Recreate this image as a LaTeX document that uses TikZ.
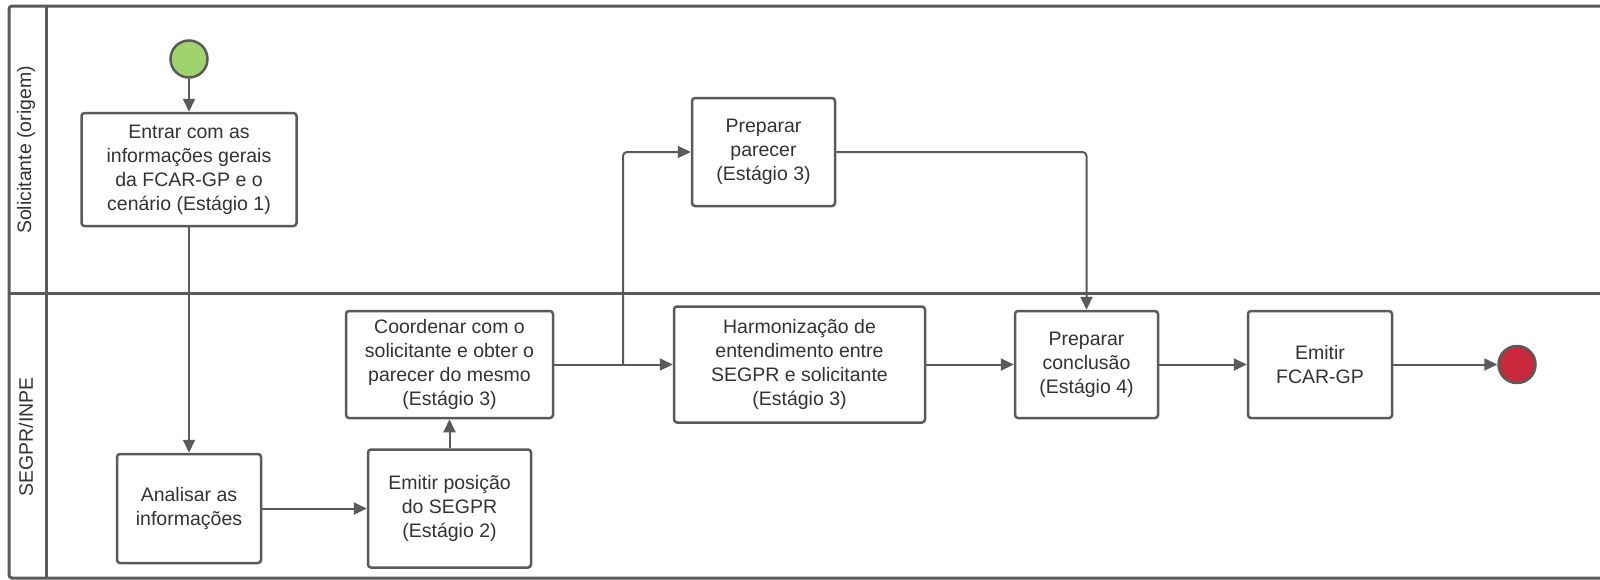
\documentclass[tikz,border=0pt]{standalone}
\usepackage{fontspec}
\setmainfont{Liberation Sans}
\usetikzlibrary{arrows.meta}
\definecolor{linec}{HTML}{5A5A5A}
\definecolor{txtc}{HTML}{333333}
\definecolor{startg}{HTML}{9FD36E}
\definecolor{endr}{HTML}{C8283A}
\tikzset{
  task/.style={draw=linec, line width=2.5pt, rounded corners=3pt, fill=white,
    align=center, text=txtc, inner sep=0pt,
    font=\fontsize{19.5}{24}\selectfont},
  flow/.style={draw=linec, line width=2pt, -{Triangle[length=13pt,width=12pt]}},
  pool/.style={draw=linec, line width=3pt},
  lanelabel/.style={rotate=90, text=txtc, font=\fontsize{19.5}{24}\selectfont},
  ev/.style={circle, draw=linec, line width=2.5pt, minimum size=37pt, inner sep=0pt}
}
\begin{document}
\begin{tikzpicture}[x=1pt,y=-1pt]
\useasboundingbox (0,0) rectangle (1600,579);
% pool
\draw[pool, rounded corners=3pt] (1600,6) -- (9,6) -- (9,578) -- (1600,578);
\draw[pool] (46,6) -- (46,578);
\draw[pool] (9,293) -- (1600,293);
\node[lanelabel] (l1) at (26,150) {Solicitante (origem)};
\node[lanelabel] (l2) at (26,437) {SEGPR/INPE};
% events
\node[ev, fill=startg] (start) at (189,59) {};
\node[ev, fill=endr] (end) at (1517,364.5) {};
% tasks
\node[task, minimum width=215pt, minimum height=113pt] (b1) at (189,169.5)
  {Entrar com as\\informações gerais\\da FCAR-GP e o\\cenário (Estágio 1)};
\node[task, minimum width=144pt, minimum height=109pt] (an) at (189,508.5)
  {Analisar as\\informações};
\node[task, minimum width=163pt, minimum height=118pt] (ep) at (449.5,508.5)
  {Emitir posição\\do SEGPR\\(Estágio 2)};
\node[task, minimum width=207pt, minimum height=107pt] (co) at (449.5,364.5)
  {Coordenar com o\\solicitante e obter o\\parecer do mesmo\\(Estágio 3)};
\node[task, minimum width=143pt, minimum height=108pt] (pp) at (763.5,152)
  {Preparar\\parecer\\(Estágio 3)};
\node[task, minimum width=251pt, minimum height=116pt] (ha) at (799.5,364.5)
  {Harmonização de\\entendimento entre\\SEGPR e solicitante\\(Estágio 3)};
\node[task, minimum width=143pt, minimum height=107pt] (pc) at (1086.5,364.5)
  {Preparar\\conclusão\\(Estágio 4)};
\node[task, minimum width=144pt, minimum height=107pt] (ef) at (1320,364.5)
  {Emitir\\FCAR-GP};
% connectors
\draw[flow] (start) -- (b1);
\draw[flow] (b1) -- (an);
\draw[flow] (an) -- (ep);
\draw[flow] (ep) -- (co);
\draw[flow] (co) -- (ha);
\coordinate (br) at (623,364.5);
\draw[flow, rounded corners=4pt] (br) |- (pp.west);
\draw[flow, rounded corners=4pt] (pp.east) -| (pc.north);
\draw[flow] (ha) -- (pc);
\draw[flow] (pc) -- (ef);
\draw[flow] (ef) -- (end);
\end{tikzpicture}
\end{document}
